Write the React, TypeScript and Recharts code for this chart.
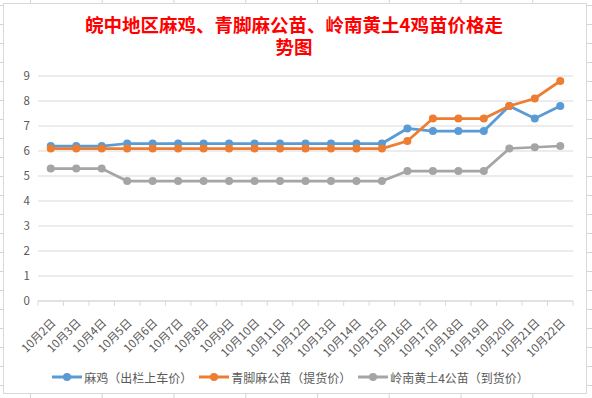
import React from 'react';
import { LineChart, Line, XAxis, YAxis, CartesianGrid, Legend } from 'recharts';

const dates = [
  '10月2日', '10月3日', '10月4日', '10月5日', '10月6日', '10月7日', '10月8日',
  '10月9日', '10月10日', '10月11日', '10月12日', '10月13日', '10月14日', '10月15日',
  '10月16日', '10月17日', '10月18日', '10月19日', '10月20日', '10月21日', '10月22日',
];
const majiPrices = [6.2, 6.2, 6.2, 6.3, 6.3, 6.3, 6.3, 6.3, 6.3, 6.3, 6.3, 6.3, 6.3, 6.3, 6.9, 6.8, 6.8, 6.8, 7.8, 7.3, 7.8];
const qingjiaoPrices = [6.1, 6.1, 6.1, 6.1, 6.1, 6.1, 6.1, 6.1, 6.1, 6.1, 6.1, 6.1, 6.1, 6.1, 6.4, 7.3, 7.3, 7.3, 7.8, 8.1, 8.8];
const lingnanPrices = [5.3, 5.3, 5.3, 4.8, 4.8, 4.8, 4.8, 4.8, 4.8, 4.8, 4.8, 4.8, 4.8, 4.8, 5.2, 5.2, 5.2, 5.2, 6.1, 6.15, 6.2];
const yTicks = [0, 1, 2, 3, 4, 5, 6, 7, 8, 9];

const seriesNames = ['麻鸡（出栏上车价）', '青脚麻公苗（提货价）', '岭南黄土4公苗（到货价）'];
const seriesColors = ['#5b9bd5', '#ed7d31', '#a5a5a5'];

const data = dates.map((d, i) => ({
  date: d,
  maji: majiPrices[i],
  qingjiao: qingjiaoPrices[i],
  lingnan: lingnanPrices[i],
}));

const FONT = "'Noto Sans CJK SC', 'Noto Sans', sans-serif";
const HALF_BAND = 12.75;

// tick label plus the little Excel-style tick marks on category boundaries
const DateTick = (props: any) => {
  const { x, y, payload, index } = props;
  const last = index === dates.length - 1;
  return (
    <g>
      <line x1={x - HALF_BAND} y1={y} x2={x - HALF_BAND} y2={y + 5} stroke="#d9d9d9" />
      {last && <line x1={x + HALF_BAND} y1={y} x2={x + HALF_BAND} y2={y + 5} stroke="#d9d9d9" />}
      <text
        x={0}
        y={0}
        transform={`translate(${x + 2},${y + 19}) rotate(-45)`}
        textAnchor="end"
        dominantBaseline="central"
        fontSize={11.5}
        fill="#595959"
        fontFamily={FONT}
      >
        {payload.value}
      </text>
    </g>
  );
};

const LegendContent = () => (
  <div style={{ display: 'flex', justifyContent: 'center', alignItems: 'center', height: 20, fontFamily: FONT, fontSize: 12, color: '#595959' }}>
    {seriesNames.map((name, i) => (
      <div key={name} style={{ display: 'flex', alignItems: 'center', marginRight: i < 2 ? 7 : 0 }}>
        <svg width={30} height={10} style={{ marginRight: 2 }}>
          <line x1={0} y1={5} x2={30} y2={5} stroke={seriesColors[i]} strokeWidth={3} />
          <circle cx={15} cy={5} r={4} fill={seriesColors[i]} />
        </svg>
        <span>{name}</span>
      </div>
    ))}
  </div>
);

export default function App() {
  return (
    <div
      style={{
        position: 'absolute',
        left: 0,
        top: 0,
        width: 592,
        height: 398,
        backgroundColor: '#ffffff',
        backgroundImage: 'linear-gradient(to right, #d4d4d4 1px, transparent 1px), linear-gradient(to bottom, #d4d4d4 1px, transparent 1px)',
        backgroundSize: '71.75px 19px',
        backgroundPosition: '30px 5px',
        overflow: 'hidden',
      }}
    >
      <div
        style={{
          position: 'absolute',
          left: 3,
          top: 3,
          width: 584,
          height: 391,
          background: '#ffffff',
          border: '1px solid #d9d9d9',
          boxSizing: 'border-box',
        }}
      />
      <div
        style={{
          position: 'absolute',
          left: 0,
          top: 13,
          width: 588,
          textAlign: 'center',
          color: '#ff0000',
          fontFamily: FONT,
          fontWeight: 'bold',
          fontSize: 18.5,
          lineHeight: '22px',
        }}
      >
        <div>皖中地区麻鸡、青脚麻公苗、岭南黄土4鸡苗价格走</div>
        <div>势图</div>
      </div>
      <div style={{ position: 'absolute', left: 0, top: 0 }}>
        <LineChart width={592} height={398} data={data} margin={{ top: 76, right: 19, bottom: 11, left: 8 }}>
          <CartesianGrid vertical={false} stroke="#d9d9d9" />
          <XAxis
            dataKey="date"
            interval={0}
            height={66}
            padding={{ left: HALF_BAND, right: HALF_BAND }}
            axisLine={{ stroke: '#d9d9d9' }}
            tickLine={false}
            tickSize={0}
            tickMargin={0}
            tick={<DateTick />}
          />
          <YAxis
            domain={[0, 9]}
            ticks={yTicks}
            width={30}
            axisLine={false}
            tickLine={false}
            tickSize={0}
            tickMargin={8}
            tick={{ fontSize: 11.5, fill: '#595959', fontFamily: FONT }}
          />
          <Legend verticalAlign="bottom" content={<LegendContent />} />
          <Line type="linear" dataKey="maji" name={seriesNames[0]} stroke={seriesColors[0]} strokeWidth={2.75} dot={{ r: 4, fill: seriesColors[0], stroke: seriesColors[0], strokeWidth: 0 }} isAnimationActive={false} />
          <Line type="linear" dataKey="qingjiao" name={seriesNames[1]} stroke={seriesColors[1]} strokeWidth={2.75} dot={{ r: 4, fill: seriesColors[1], stroke: seriesColors[1], strokeWidth: 0 }} isAnimationActive={false} />
          <Line type="linear" dataKey="lingnan" name={seriesNames[2]} stroke={seriesColors[2]} strokeWidth={2.75} dot={{ r: 4, fill: seriesColors[2], stroke: seriesColors[2], strokeWidth: 0 }} isAnimationActive={false} />
        </LineChart>
      </div>
    </div>
  );
}
